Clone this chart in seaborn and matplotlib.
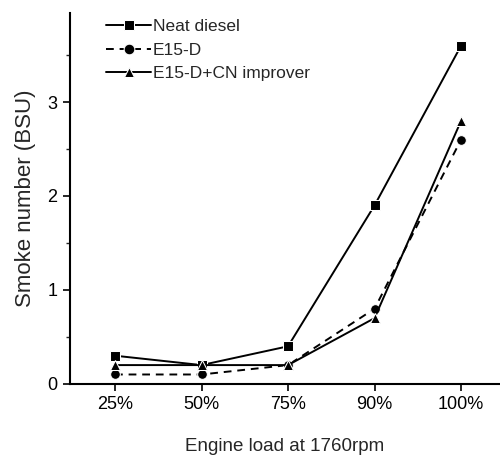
import matplotlib
matplotlib.use("Agg")
import matplotlib.pyplot as plt
import seaborn as sns
import pandas as pd
from matplotlib.ticker import MultipleLocator

loads = ["25%", "50%", "75%", "90%", "100%"]
neat_diesel = [0.3, 0.2, 0.4, 1.9, 3.6]
e15_d = [0.1, 0.1, 0.2, 0.8, 2.6]
e15_d_cn = [0.2, 0.2, 0.2, 0.7, 2.8]
series_names = ["Neat diesel", "E15-D", "E15-D+CN improver"]

sns.set_style("ticks")
plt.rcParams['font.family'] = ['Liberation Sans', 'DejaVu Sans']

rows = []
for name, vals in zip(series_names, [neat_diesel, e15_d, e15_d_cn]):
    for i, (l, v) in enumerate(zip(loads, vals)):
        rows.append({"pos": i, "load": l, "value": v, "series": name})
df = pd.DataFrame(rows)

fig = plt.figure(figsize=(5, 4.57), dpi=100)
ax = fig.add_axes([0.14, 0.16, 0.86, 0.812])

styles = {
    "Neat diesel": dict(marker="s", linestyle="-"),
    "E15-D": dict(marker="o", linestyle=(0, (4, 3))),
    "E15-D+CN improver": dict(marker="^", linestyle="-"),
}
for name in series_names:
    sub = df[df.series == name]
    sns.lineplot(data=sub, x="pos", y="value", ax=ax, color="black", linewidth=1.4,
                 markersize=7, label=name, **styles[name])

ax.set_xticks(range(len(loads)))
ax.set_xticklabels(loads)
ax.set_xlim(-0.52, 4.45)
ax.set_ylim(0, 3.95)
ax.yaxis.set_major_locator(MultipleLocator(1))
ax.yaxis.set_minor_locator(MultipleLocator(0.5))
ax.tick_params(axis="both", which="major", labelsize=13, length=5, width=1.2,
               direction="out", colors="black", pad=4)
ax.tick_params(axis="y", which="minor", length=3, width=1)
ax.set_xlabel("Engine load at 1760rpm", fontsize=13.5, labelpad=18)
ax.set_ylabel("Smoke number (BSU)", fontsize=16, labelpad=8)
for s in ["top", "right"]:
    ax.spines[s].set_visible(False)
for s in ["left", "bottom"]:
    ax.spines[s].set_linewidth(1.5)
    ax.spines[s].set_color("black")

leg = ax.legend(loc="upper left", bbox_to_anchor=(0.068, 1.003), frameon=False, fontsize=12.5,
                handlelength=2.6, handletextpad=0.1, labelspacing=0.5, borderaxespad=0,
                markerscale=1.1)

fig.savefig("out.png", dpi=100)
